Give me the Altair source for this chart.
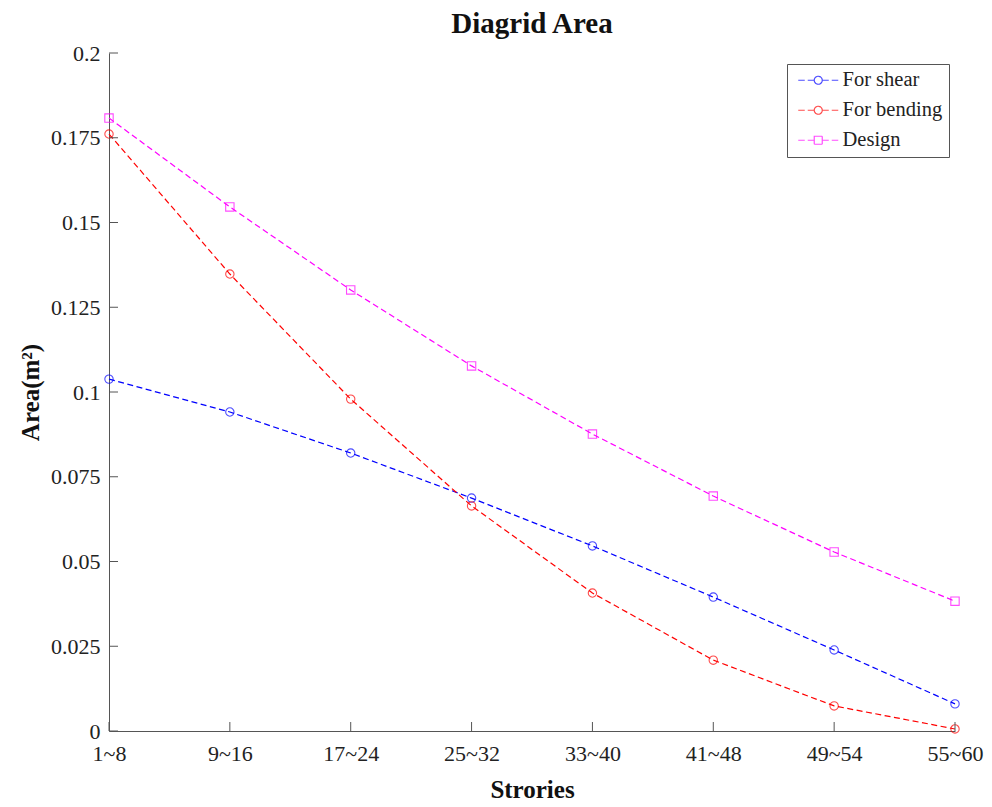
import altair as alt
import pandas as pd

categories = ["1~8", "9~16", "17~24", "25~32", "33~40", "41~48", "49~54", "55~60"]
shear = [0.1038, 0.0941, 0.0820, 0.0687, 0.0546, 0.0395, 0.0239, 0.0080]
bending = [0.1761, 0.1348, 0.0979, 0.0664, 0.0407, 0.0209, 0.0074, 0.0006]
design = [0.1808, 0.1546, 0.1301, 0.1077, 0.0876, 0.0693, 0.0528, 0.0383]
series_names = ["For shear", "For bending", "Design"]
series_colors = ["#0000FF", "#FF0000", "#FF00FF"]
y_ticks = [0, 0.025, 0.05, 0.075, 0.1, 0.125, 0.15, 0.175, 0.2]

rows = []
for name, vals in zip(series_names, [shear, bending, design]):
    for c, v in zip(categories, vals):
        rows.append({"Stories": c, "Area": v, "Series": name})
df = pd.DataFrame(rows)

W, H = 846, 678
FONT = "Liberation Serif"
AXIS_COLOR = "#555555"
TICK_LEN = 9

circle_path = ("M-1,0L0.3,0M0.9,0L2.2,0M3.8,0L5.1,0M5.7,0L7,0"
               "M3.8,0A0.8,0.8,0,1,1,2.2,0A0.8,0.8,0,1,1,3.8,0Z")
square_path = ("M-1,0L0.3,0M0.9,0L2.2,0M3.8,0L5.1,0M5.7,0L7,0"
               "M2.2,-0.8L3.8,-0.8L3.8,0.8L2.2,0.8Z")

legend = alt.Legend(
    title=None, orient="none", legendX=678, legendY=11,
    labelFont=FONT, labelFontSize=20.5, labelColor="#222222",
    strokeColor="#555555", fillColor="white", padding=6,
    symbolSize=100, labelOffset=29, rowPadding=9, symbolStrokeWidth=1.2,
    symbolFillColor="transparent", symbolDash=[1, 0],
    symbolType={"expr": f"datum.value === 'Design' ? '{square_path}' : '{circle_path}'"},
)

x_scale = alt.Scale(type="point", domain=categories, padding=0)
y_scale = alt.Scale(domain=[0, 0.2], nice=False, zero=True)
color_scale = alt.Scale(domain=series_names, range=series_colors)

x_axis = alt.Axis(title="Strories", titleFont=FONT, titleFontSize=25, titleFontWeight="bold",
                  titleColor="#111111", titleX=W / 2, titleY=66, titleBaseline="alphabetic",
                  labelFont=FONT, labelFontSize=22, labelColor="#222222", labelPadding=12,
                  ticks=False, tickSize=0, domainColor=AXIS_COLOR, grid=False, labelAngle=0)
y_axis = alt.Axis(title="Area(m²)", titleFont=FONT, titleFontSize=25, titleFontWeight="bold",
                  titleColor="#111111", titleX=-79, titleY=H / 2, titleBaseline="middle",
                  labelFont=FONT, labelFontSize=22, labelColor="#222222", labelPadding=9,
                  values=y_ticks, labelExpr="format(datum.value, '.3~f')",
                  ticks=False, tickSize=0, domainColor=AXIS_COLOR, grid=False)

X = alt.X("Stories:O", scale=x_scale, axis=x_axis)
Y = alt.Y("Area:Q", scale=y_scale, axis=y_axis)
C = alt.Color("Series:N", scale=color_scale, legend=legend)

base = alt.Chart(df)

lines = base.mark_line(strokeWidth=1.2, strokeDash=[6, 3.5]).encode(x=X, y=Y, color=C)

circles = base.transform_filter("datum.Series !== 'Design'").mark_point(
    shape="circle", filled=False, size=70, strokeWidth=1.1).encode(x=X, y=Y, color=C)
squares = base.transform_filter("datum.Series === 'Design'").mark_point(
    shape="square", filled=False, size=70, strokeWidth=1.1).encode(x=X, y=Y, color=C)

ytick_df = pd.DataFrame({"Area": y_ticks})
yticks = alt.Chart(ytick_df).mark_rule(color=AXIS_COLOR, strokeWidth=1).encode(
    y=Y, x=alt.value(0), x2=alt.value(TICK_LEN),
)

xtick_df = pd.DataFrame({"Stories": categories})
xticks = alt.Chart(xtick_df).mark_rule(color=AXIS_COLOR, strokeWidth=1).encode(
    x=X, y=alt.value(H), y2=alt.value(H - TICK_LEN),
)

chart = alt.layer(lines, circles, squares, yticks, xticks).properties(
    width=W, height=H,
    title=alt.TitleParams("Diagrid Area", font=FONT, fontSize=29, fontWeight="bold",
                          color="#111111", anchor="middle", offset=20, baseline="alphabetic",
                          dy=40),
    autosize=alt.AutoSizeParams(type="none"),
    padding={"left": 109, "top": 53, "right": 37, "bottom": 76},
    background="white",
).configure_view(stroke=None)

chart.save("out.html", embed_options={"renderer": "svg", "actions": False})
